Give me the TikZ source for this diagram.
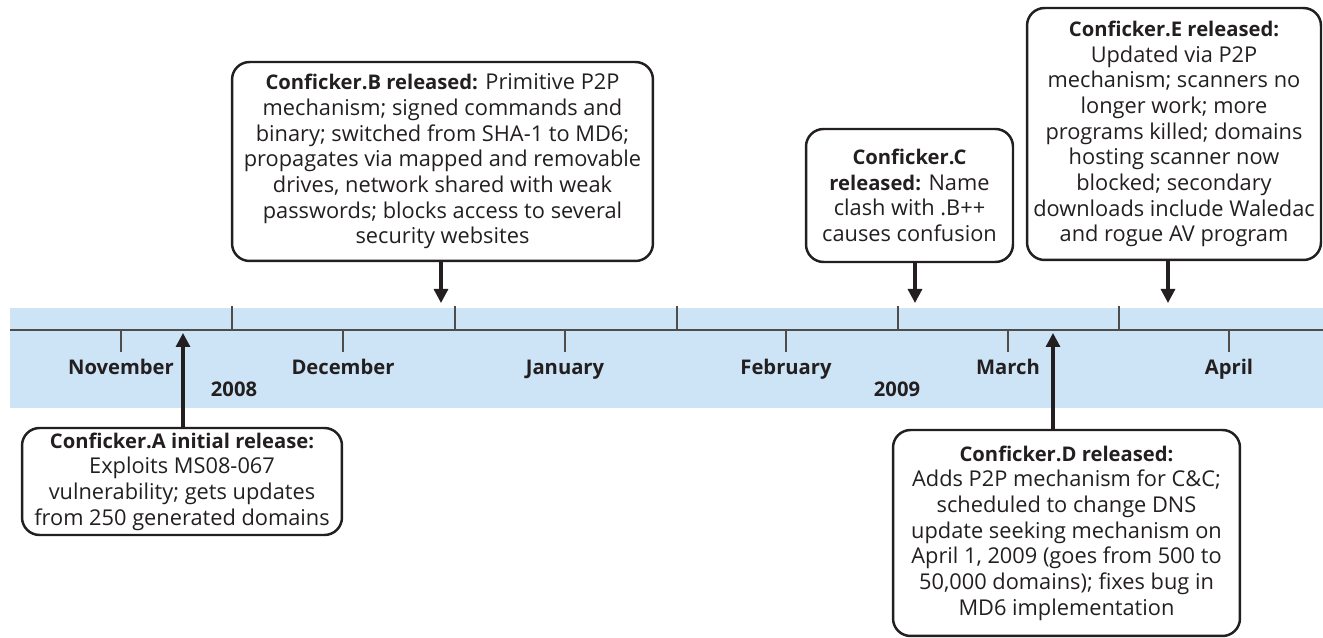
\documentclass[tikz,border=0pt]{standalone}
\usepackage{fontspec}
\setmainfont{Open Sans}
\usetikzlibrary{arrows.meta}
\definecolor{bandblue}{RGB}{204,228,245}
\definecolor{inkgray}{RGB}{35,31,32}
\newcommand{\relname}[1]{{\fontsize{11.5}{14.6}\selectfont\bfseries #1}}

\begin{document}
\begin{tikzpicture}[x=0.02cm, y=-0.02cm,
    every node/.style={font=\fontsize{12.4}{14.6}\selectfont, text=inkgray},
    event/.style={draw=inkgray, line width=1.4pt, rounded corners=0.35cm, align=center, inner sep=0pt},
    month/.style={font=\fontsize{11.5}{14.6}\selectfont\bfseries, anchor=base},
    pointer/.style={draw=inkgray, line width=1.8pt, -{Triangle[length=0.28cm, width=0.28cm]}}]
      \useasboundingbox (0,0) rectangle (1323,638);

      \fill[bandblue] (10,308) rectangle (1323,408);
      \draw[inkgray!80, line width=1pt] (10,330) -- (1323,330);

      \draw[inkgray!80, line width=0.6pt] (232,306) -- (232,330);
      \draw[inkgray!80, line width=0.6pt] (455,306) -- (455,330);
      \draw[inkgray!80, line width=0.6pt] (677,306) -- (677,330);
      \draw[inkgray!80, line width=0.6pt] (898,306) -- (898,330);
      \draw[inkgray!80, line width=0.6pt] (1119,306) -- (1119,330);
      \draw[inkgray!80, line width=0.6pt] (121,330) -- (121,352);
      \draw[inkgray!80, line width=0.6pt] (343,330) -- (343,352);
      \draw[inkgray!80, line width=0.6pt] (565,330) -- (565,352);
      \draw[inkgray!80, line width=0.6pt] (786,330) -- (786,352);
      \draw[inkgray!80, line width=0.6pt] (1008,330) -- (1008,352);
      \draw[inkgray!80, line width=0.6pt] (1229,330) -- (1229,352);

      \node[month] (nov) at (121,375) {November};
      \node[month] (dec) at (343,375) {December};
      \node[month] (jan) at (565,375) {January};
      \node[month] (feb) at (786,375) {February};
      \node[month] (mar) at (1008,375) {March};
      \node[month] (apr) at (1229,375) {April};
      \node[month] (y2008) at (234,397) {2008};
      \node[month] (y2009) at (897,397) {2009};

      \node[event, minimum width=6.4cm, minimum height=2.14cm] (relA) at (182,481.5)
        {\relname{Conficker.A initial release:}\\Exploits MS08-067\\vulnerability; gets updates\\from 250 generated domains};
      \node[event, minimum width=8.42cm, minimum height=3.98cm] (relB) at (442.5,161.5)
        {\relname{Conficker.B released:} Primitive P2P\\mechanism; signed commands and\\binary; switched from SHA-1 to MD6;\\propagates via mapped and removable\\drives, network shared with weak\\passwords; blocks access to several\\security websites};
      \node[event, minimum width=4.14cm, minimum height=2.66cm] (relC) at (909.5,195.5)
        {\relname{Conficker.C}\\\relname{released:} Name\\clash with .B++\\causes confusion};
      \node[event, minimum width=6.94cm, minimum height=4.12cm] (relD) at (1066.5,533)
        {\relname{Conficker.D released:}\\Adds P2P mechanism for C\&C;\\scheduled to change DNS\\update seeking mechanism on\\April 1, 2009 (goes from 500 to\\50,000 domains); fixes bug in\\MD6 implementation};
      \node[event, minimum width=5.88cm, minimum height=5.04cm] (relE) at (1174,134)
        {\relname{Conficker.E released:}\\Updated via P2P\\mechanism; scanners no\\longer work; more\\programs killed; domains\\hosting scanner now\\blocked; secondary\\downloads include Waledac\\and rogue AV program};

      \coordinate (tipA) at (183,333);
      \coordinate (tipB) at (441,303);
      \coordinate (tipC) at (915,303);
      \coordinate (tipD) at (1053,333);
      \coordinate (tipE) at (1168,303);

      \draw[pointer] (tipA |- relA.north) -- (tipA);
      \draw[pointer] (tipB |- relB.south) -- (tipB);
      \draw[pointer] (tipC |- relC.south) -- (tipC);
      \draw[pointer] (tipD |- relD.north) -- (tipD);
      \draw[pointer] (tipE |- relE.south) -- (tipE);
    \end{tikzpicture}
\end{document}
